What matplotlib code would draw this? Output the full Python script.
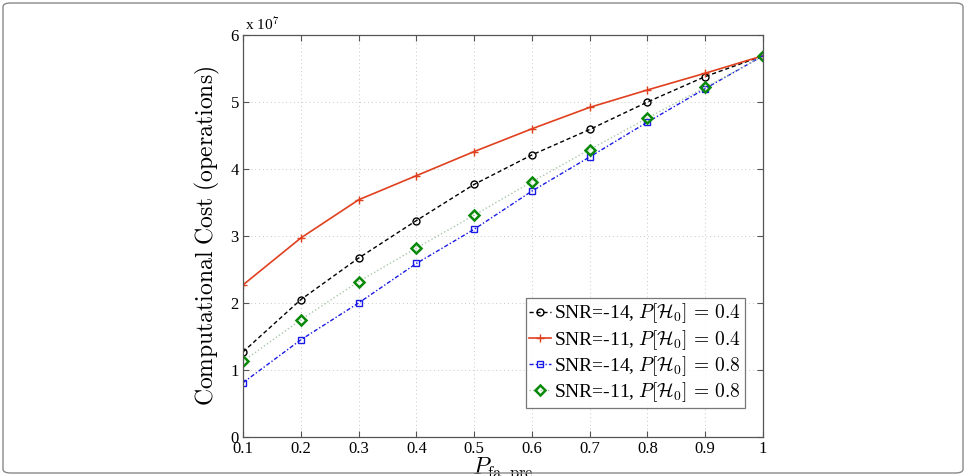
import matplotlib
matplotlib.use("Agg")
import matplotlib.pyplot as plt
from matplotlib.patches import FancyBboxPatch

plt.rcParams['mathtext.fontset'] = 'cm'
plt.rcParams['font.family'] = ['Liberation Serif', 'DejaVu Serif']

pfa = [0.1, 0.2, 0.3, 0.4, 0.5, 0.6, 0.7, 0.8, 0.9, 1.0]
snr14_p04 = [1.27, 2.05, 2.67, 3.23, 3.77, 4.21, 4.59, 5.00, 5.38, 5.69]
snr11_p04 = [2.27, 2.97, 3.54, 3.90, 4.26, 4.60, 4.92, 5.18, 5.43, 5.69]
snr14_p08 = [0.81, 1.45, 2.00, 2.59, 3.10, 3.67, 4.18, 4.70, 5.20, 5.69]
snr11_p08 = [1.13, 1.75, 2.32, 2.82, 3.31, 3.81, 4.29, 4.76, 5.22, 5.68]
labels = [r'SNR=-14, $P[\mathcal{H}_0]\,=\,0.4$',
          r'SNR=-11, $P[\mathcal{H}_0]\,=\,0.4$',
          r'SNR=-14, $P[\mathcal{H}_0]\,=\,0.8$',
          r'SNR=-11, $P[\mathcal{H}_0]\,=\,0.8$']
xticks = [0.1, 0.2, 0.3, 0.4, 0.5, 0.6, 0.7, 0.8, 0.9, 1.0]
yticks = [0, 1, 2, 3, 4, 5, 6]

fig = plt.figure(figsize=(9.66, 4.76), dpi=100)
ax = fig.add_axes([243/966, 1-437/476, (763-243)/966, (437-35)/476])

ax.plot(pfa, snr14_p04, color='black', linestyle=(0, (3, 2)), lw=1.0,
        marker='o', mfc='none', ms=5, mew=1.0, label=labels[0])
ax.plot(pfa, snr11_p04, color='#e0401e', linestyle='-', lw=1.2,
        marker='+', ms=6, mew=1.0, label=labels[1])
ax.plot(pfa, snr14_p08, color='#1a1ae6', linestyle=(0, (3, 1.5, 1, 1.5)), lw=1.0,
        marker='s', mfc='none', ms=4, mew=1.0, label=labels[2])
ax.plot(pfa, snr11_p08, color='#a8c8a8', linestyle=':', lw=1.0,
        marker='D', mfc='none', mec='#0a8a0a', ms=5, mew=1.8, label=labels[3])

ax.set_xlim(0.1, 1.0)
ax.set_ylim(0, 6)
ax.set_xticks(xticks)
ax.set_xticklabels(['0.1', '0.2', '0.3', '0.4', '0.5', '0.6', '0.7', '0.8', '0.9', '1'])
ax.set_yticks(yticks)
ax.grid(True, linestyle=(0, (1, 3)), color='#c8c8c8', lw=0.7)
ax.tick_params(direction='in', labelsize=12, length=4, color='#555555',
               top=True, right=True, pad=3)
for s in ax.spines.values():
    s.set_color('#555555')
    s.set_linewidth(0.9)

ax.text(0.003, 1.003, r'x 10$^7$', transform=ax.transAxes, fontsize=11,
        ha='left', va='bottom')
ax.set_ylabel(r'$\mathrm{Computational\ Cost\ (operations)}$', fontsize=17, labelpad=6)
ax.set_xlabel(r'$P_{\mathrm{fa\_pre}}$', fontsize=17, labelpad=-1)

leg = ax.legend(loc='lower right', bbox_to_anchor=(0.965, 0.073), fontsize=14,
                frameon=True, fancybox=False, edgecolor='#555555',
                handlelength=1.1, handletextpad=0.15, borderpad=0.2,
                labelspacing=0.12, borderaxespad=0.0)
leg.get_frame().set_linewidth(0.9)

border = FancyBboxPatch((3/966, 3/476), 960/966, 470/476,
                        boxstyle='round,pad=0,rounding_size=0.008',
                        transform=fig.transFigure, fill=False,
                        edgecolor='#888888', lw=1.0)
fig.patches.append(border)

fig.savefig('out.png', dpi=100)
